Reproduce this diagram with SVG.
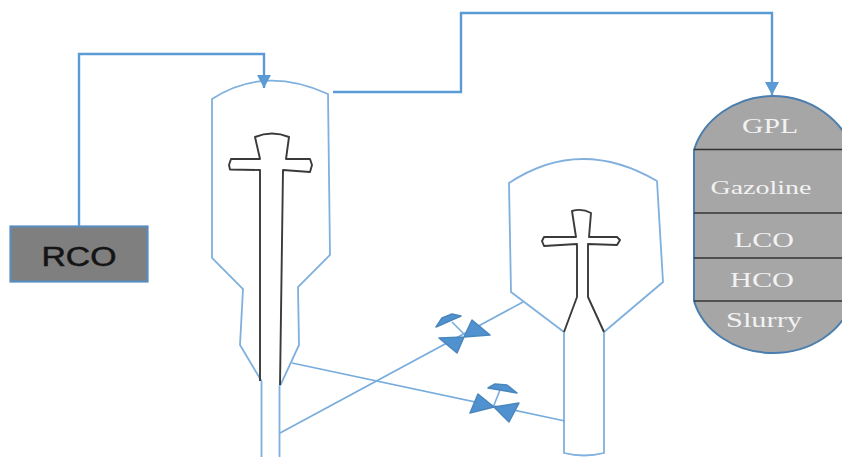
<svg xmlns="http://www.w3.org/2000/svg" width="842" height="457" viewBox="0 0 842 457">
<style>
.vessel{fill:none;stroke:#7fb0de;stroke-width:1.8;stroke-linejoin:miter}
.inner{fill:none;stroke:#3a3a3a;stroke-width:1.9;stroke-linejoin:round}
.pipe{fill:none;stroke:#5b9bd5;stroke-width:2.4}
.thin{fill:none;stroke:#78acdc;stroke-width:1.6}
.valve{fill:#4f92cf;stroke:#4a86bd;stroke-width:1.5;stroke-linejoin:round}
.stem{fill:none;stroke:#78acdc;stroke-width:1.6}
.lab{font-family:"Liberation Serif",serif;fill:#f2f2f2;text-anchor:middle}
</style>
<defs>
<marker id="arr" markerUnits="userSpaceOnUse" markerWidth="14" markerHeight="14" refX="13" refY="7" orient="auto">
<path d="M0 0L13 7L0 14Z" fill="#5b9bd5"/>
</marker>
</defs>
<g id="rco">
<rect x="10.500" y="226.500" width="137" height="55" fill="#7f7f7f" stroke="#5a8dbd" stroke-width="2.200"/>
<text x="79" y="266" font-family="'Liberation Sans',sans-serif" font-size="27" fill="#141414" stroke="#141414" stroke-width="0.500" text-anchor="middle" textLength="75" lengthAdjust="spacingAndGlyphs">RCO</text>
</g>
<g id="reactor">
<path class="vessel" d="M261.500 457V381L240 345L243 289L212 258V99Q264 65 328 94L330 255L298 287L299 345L281 384L279.500 386V457"/>
<path class="inner" d="M260 381V170L230 169.500L229 165L231 159L260 159L255 137Q272 130 289 137L286 159L310 159L312 165L310 172L283 170L280 385"/>
</g>
<g id="regenerator">
<path class="vessel" d="M564 332V453Q584 458 604 453V332L663 282L657 181Q580 136 509 183L511 292L564 332"/>
<path class="inner" d="M564 332L577 297V244L544 246L542 241L544 237L576 237L572 211Q582 208 591 213L589 237L617 237L620 240L617 245L588 244V297L604 332"/>
</g>
<g id="tank">
<path d="M694 150C703 120 735 96 773 96C811 96 843 120 852 150V301C843 331 811 353 773 353C735 353 703 331 694 301Z" fill="#a6a6a6" stroke="#4a7eae" stroke-width="2"/>
<g stroke="#333" stroke-width="1.500">
<line x1="694" y1="149.500" x2="842" y2="149.500"/>
<line x1="694" y1="213" x2="842" y2="213"/>
<line x1="694" y1="258" x2="842" y2="258"/>
<line x1="694" y1="301" x2="842" y2="301"/>
</g>
<text class="lab" x="770" y="133" font-size="21" textLength="56" lengthAdjust="spacingAndGlyphs">GPL</text>
<text class="lab" x="761" y="194" font-size="18.500" textLength="101" lengthAdjust="spacingAndGlyphs">Gazoline</text>
<text class="lab" x="764" y="247" font-size="21" textLength="60" lengthAdjust="spacingAndGlyphs">LCO</text>
<text class="lab" x="762" y="287" font-size="21" textLength="64" lengthAdjust="spacingAndGlyphs">HCO</text>
<text class="lab" x="764" y="327" font-size="21" textLength="76" lengthAdjust="spacingAndGlyphs">Slurry</text>
</g>
<g id="connectors">
<path class="pipe" d="M79 226V54H264V88" marker-end="url(#arr)"/>
<path class="pipe" d="M333 92H461V13H772V95" marker-end="url(#arr)"/>
<path class="thin" d="M280 433L523 302"/>
<path class="thin" d="M292 363L565 421"/>
</g>
<g id="valve-1">
<path class="stem" d="M452 322L464 334"/>
<path class="valve" d="M472 320L490 335L464 337L457 353L439 338L464 337Z"/>
<path class="valve" d="M436 327L442 318L452 314L461 316Z"/>
</g>
<g id="valve-2">
<path class="stem" d="M500 390L494 405"/>
<path class="valve" d="M478 394L494 407L470 413ZM494 407L519 403L509 422Z"/>
<path class="valve" d="M488 388L495 384L507 385L517 393Z"/>
</g>
</svg>
